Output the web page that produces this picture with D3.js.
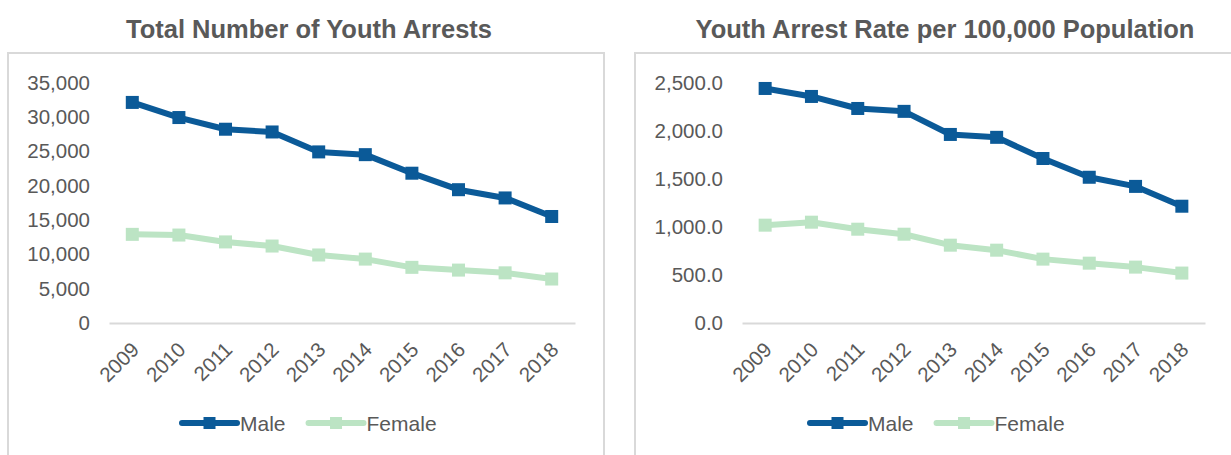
<!DOCTYPE html>
<html>
<head>
<meta charset="utf-8">
<script src="https://cdn.jsdelivr.net/npm/d3@7"></script>
<style>
  body { margin: 0; background: #fff; }
  svg { display: block; font-family: "Liberation Sans", Arial, sans-serif; }
</style>
</head>
<body>
<svg id="chart" width="1231" height="455"></svg>
<script>
// Data
const years = [2009, 2010, 2011, 2012, 2013, 2014, 2015, 2016, 2017, 2018];
const arrestsMale = [32100, 29900, 28200, 27800, 24900, 24500, 21800, 19400, 18200, 15500];
const arrestsFemale = [12900, 12800, 11800, 11200, 9900, 9300, 8100, 7700, 7300, 6400];
const rateMale = [2438, 2355, 2230, 2200, 1960, 1930, 1710, 1515, 1420, 1214];
const rateFemale = [1017, 1048, 975, 923, 809, 757, 664, 622, 581, 519];
const arrestTicks = [0, 5000, 10000, 15000, 20000, 25000, 30000, 35000];
const rateTicks = [0, 500, 1000, 1500, 2000, 2500];
const seriesNames = ['Male', 'Female'];

const colors = { Male: '#0b5a98', Female: '#bce4c4' };
const textColor = '#595959';
const gridColor = '#d9d9d9';

const svg = d3.select('#chart');

function drawPanel(opts) {
  const g = svg.append('g');

  // Panel border
  g.append('rect')
    .attr('x', opts.box[0]).attr('y', opts.box[1])
    .attr('width', opts.box[2]).attr('height', opts.box[3])
    .attr('fill', 'none')
    .attr('stroke', gridColor)
    .attr('stroke-width', 2);

  // Title
  g.append('text')
    .attr('x', opts.titleX).attr('y', 38)
    .attr('text-anchor', 'middle')
    .attr('fill', textColor)
    .attr('font-size', '25.5px')
    .attr('font-weight', 'bold')
    .text(opts.title);

  const x = d3.scaleBand().domain(years).range(opts.xRange);
  const y = d3.scaleLinear().domain([0, d3.max(opts.ticks)]).range([323, 82.5]);
  const cx = d => x(d) + x.bandwidth() / 2;

  // Y axis labels
  const yAxis = d3.axisLeft(y)
    .tickValues(opts.ticks)
    .tickSize(0)
    .tickPadding(0)
    .tickFormat(opts.format);
  g.append('g')
    .attr('transform', `translate(${opts.labelX},0)`)
    .call(yAxis)
    .call(a => a.select('.domain').remove())
    .call(a => a.selectAll('text')
      .attr('fill', textColor)
      .attr('font-size', '20.5px')
      .attr('font-family', '"Liberation Sans", Arial, sans-serif'));

  // X axis (baseline + rotated year labels)
  const xAxis = d3.axisBottom(x).tickSize(0).tickPadding(0);
  g.append('g')
    .attr('transform', `translate(0,${y(0)})`)
    .call(xAxis)
    .call(a => a.select('.domain').attr('stroke', gridColor).attr('stroke-width', 2))
    .call(a => a.selectAll('.tick text')
      .attr('fill', textColor)
      .attr('font-size', '20.5px')
      .attr('font-family', '"Liberation Sans", Arial, sans-serif')
      .attr('text-anchor', 'end')
      .attr('dy', null)
      .attr('y', 0)
      .attr('transform', 'translate(8,28) rotate(-45)'));

  // Series lines + markers
  opts.series.forEach(s => {
    const line = d3.line().x((d, i) => cx(years[i])).y(d => y(d));
    g.append('path')
      .datum(s.values)
      .attr('d', line)
      .attr('fill', 'none')
      .attr('stroke', colors[s.name])
      .attr('stroke-width', 6)
      .attr('stroke-linejoin', 'round');
    g.selectAll(null)
      .data(s.values)
      .enter().append('rect')
      .attr('x', (d, i) => cx(years[i]) - 6.5)
      .attr('y', d => y(d) - 6.5)
      .attr('width', 13)
      .attr('height', 13)
      .attr('fill', colors[s.name]);
  });

  // Legend
  const leg = g.append('g').attr('transform', `translate(${opts.legendX},423)`);
  let lx = 0;
  seriesNames.forEach(name => {
    leg.append('line')
      .attr('x1', lx).attr('x2', lx + 55)
      .attr('y1', 0).attr('y2', 0)
      .attr('stroke', colors[name])
      .attr('stroke-width', 6)
      .attr('stroke-linecap', 'round');
    leg.append('rect')
      .attr('x', lx + 21.5).attr('y', -6)
      .attr('width', 12).attr('height', 12)
      .attr('fill', colors[name]);
    const t = leg.append('text')
      .attr('x', lx + 58).attr('y', 7.5)
      .attr('fill', textColor)
      .attr('font-size', '21px')
      .text(name);
    lx += 58 + t.node().getComputedTextLength() + 23;
  });
}

drawPanel({
  box: [8, 53, 596, 420],
  title: 'Total Number of Youth Arrests',
  titleX: 309,
  xRange: [109, 575],
  labelX: 90,
  ticks: arrestTicks,
  format: d3.format(','),
  series: [
    { name: 'Male', values: arrestsMale },
    { name: 'Female', values: arrestsFemale }
  ],
  legendX: 182
});

drawPanel({
  box: [635, 53, 620, 420],
  title: 'Youth Arrest Rate per 100,000 Population',
  titleX: 945,
  xRange: [742, 1205],
  labelX: 723,
  ticks: rateTicks,
  format: d3.format(',.1f'),
  series: [
    { name: 'Male', values: rateMale },
    { name: 'Female', values: rateFemale }
  ],
  legendX: 810
});
</script>
</body>
</html>
